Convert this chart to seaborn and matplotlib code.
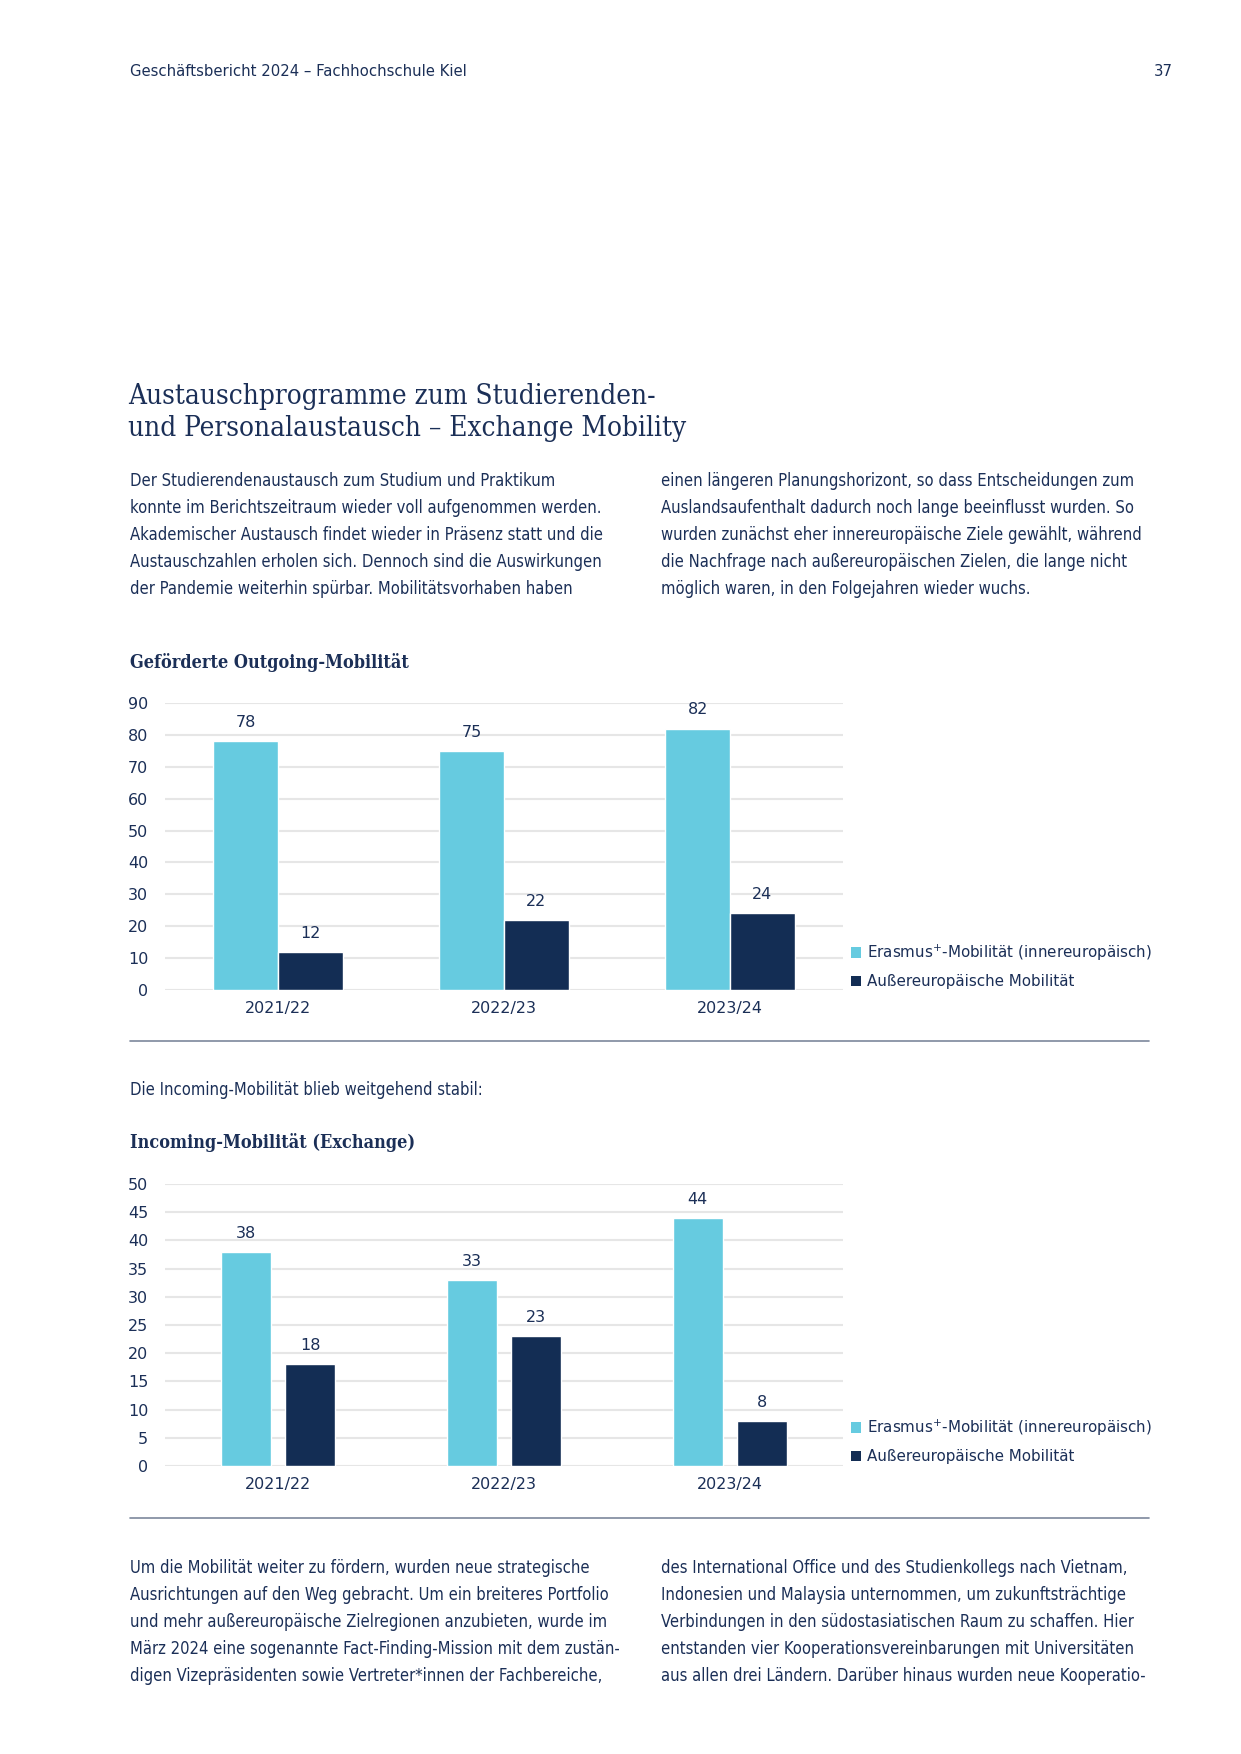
import pandas as pd
import numpy as np
import matplotlib.pyplot as plt
import seaborn as sns
from matplotlib.patches import Patch

# Theme first, fonts afterwards (set_theme resets font.family)
sns.set_theme(style="whitegrid")
plt.rcParams['font.family'] = ['DejaVu Sans']

NAVY = '#1b2f57'
LIGHT = '#66cbe0'
DARK = '#132d54'
GRID = '#e6e6e6'
RULE = '#7d889c'

W, H = 1241, 1754

# Data
years = ['2021/22', '2022/23', '2023/24']
series_names = ['Erasmus$^{+}$-Mobilität (innereuropäisch)', 'Außereuropäische Mobilität']
out_erasmus = [78, 75, 82]
out_aussen = [12, 22, 24]
in_erasmus = [38, 33, 44]
in_aussen = [18, 23, 8]
out_ticks = list(range(0, 91, 10))
in_ticks = list(range(0, 51, 5))

header_left = 'Geschäftsbericht 2024 – Fachhochschule Kiel'
page_no = '37'
title_lines = ['Austauschprogramme zum Studierenden-',
               'und Personalaustausch – Exchange Mobility']
intro_left = ['Der Studierendenaustausch zum Studium und Praktikum',
              'konnte im Berichtszeitraum wieder voll aufgenommen werden.',
              'Akademischer Austausch findet wieder in Präsenz statt und die',
              'Austauschzahlen erholen sich. Dennoch sind die Auswirkungen',
              'der Pandemie weiterhin spürbar. Mobilitätsvorhaben haben']
intro_right = ['einen längeren Planungshorizont, so dass Entscheidungen zum',
               'Auslandsaufenthalt dadurch noch lange beeinflusst wurden. So',
               'wurden zunächst eher innereuropäische Ziele gewählt, während',
               'die Nachfrage nach außereuropäischen Zielen, die lange nicht',
               'möglich waren, in den Folgejahren wieder wuchs.']
out_title = 'Geförderte Outgoing-Mobilität'
in_intro = 'Die Incoming-Mobilität blieb weitgehend stabil:'
in_title = 'Incoming-Mobilität (Exchange)'
outro_left = ['Um die Mobilität weiter zu fördern, wurden neue strategische',
              'Ausrichtungen auf den Weg gebracht. Um ein breiteres Portfolio',
              'und mehr außereuropäische Zielregionen anzubieten, wurde im',
              'März 2024 eine sogenannte Fact-Finding-Mission mit dem zustän-',
              'digen Vizepräsidenten sowie Vertreter*innen der Fachbereiche,']
outro_right = ['des International Office und des Studienkollegs nach Vietnam,',
               'Indonesien und Malaysia unternommen, um zukunftsträchtige',
               'Verbindungen in den südostasiatischen Raum zu schaffen. Hier',
               'entstanden vier Kooperationsvereinbarungen mit Universitäten',
               'aus allen drei Ländern. Darüber hinaus wurden neue Kooperatio-']

df_out = pd.DataFrame({'Jahr': years * 2,
                       'Art': [series_names[0]] * 3 + [series_names[1]] * 3,
                       'Anzahl': out_erasmus + out_aussen})
df_in = pd.DataFrame({'Jahr': years * 2,
                      'Art': [series_names[0]] * 3 + [series_names[1]] * 3,
                      'Anzahl': in_erasmus + in_aussen})


def fx(x):
    return x / W


def fy(y):
    return 1 - y / H


fig = plt.figure(figsize=(W / 100, H / 100), dpi=100)

BODY_SIZE = 11.9


def body(lines, x, y0, step=27, size=BODY_SIZE):
    for i, line in enumerate(lines):
        fig.text(fx(x), fy(y0 + i * step), line, fontsize=size, color=NAVY,
                 ha='left', va='center', fontstretch='condensed')


# Header
fig.text(fx(130), fy(72), header_left, fontsize=10.7, color=NAVY, va='center')
fig.text(fx(1173), fy(72), page_no, fontsize=10.7, color=NAVY, va='center', ha='right')

# Title
for i, line in enumerate(title_lines):
    fig.text(fx(128), fy(404 + i * 32), line, fontsize=20, color=NAVY,
             family='DejaVu Serif', fontstretch='condensed', va='baseline')

body(intro_left, 130, 481)
body(intro_right, 661, 481)


def chart(ax, df, ticks, title_y, title, bar_kw):
    sns.barplot(data=df, x='Jahr', y='Anzahl', hue='Art', palette=[LIGHT, DARK],
                saturation=1, errorbar=None, ax=ax, legend=False, **bar_kw)
    ax.set_xlim(-0.5, 2.5)
    ax.set_ylim(0, ticks[-1])
    ax.set_yticks(ticks)
    ax.set_xlabel('')
    ax.set_ylabel('')
    ax.grid(axis='y', color=GRID, linewidth=1.5)
    ax.grid(axis='x', visible=False)
    ax.set_axisbelow(True)
    for s in ax.spines.values():
        s.set_visible(False)
    ax.tick_params(axis='y', length=0, pad=12, labelsize=11.5, labelcolor=NAVY)
    ax.tick_params(axis='x', length=0, pad=8, labelsize=11.5, labelcolor=NAVY)
    for c in ax.containers:
        ax.bar_label(c, fmt='%d', padding=8, fontsize=11.5, color=NAVY)
    fig.text(fx(130), fy(title_y), title, fontsize=13, color=NAVY, weight='bold',
             family='DejaVu Serif', fontstretch='condensed', va='center')


# Chart 1: Outgoing
ax1 = fig.add_axes([fx(165), fy(990), (843 - 165) / W, (990 - 703) / H])
chart(ax1, df_out, out_ticks, 663, out_title, dict(width=0.573, gap=0))

# Chart 2: Incoming
ax2 = fig.add_axes([fx(165), fy(1466), (843 - 165) / W, (1466 - 1184) / H])
chart(ax2, df_in, in_ticks, 1142, in_title, dict(width=0.57, gap=0.23))

fig.text(fx(130), fy(1090), in_intro, fontsize=BODY_SIZE, color=NAVY, va='center',
         fontstretch='condensed')

# Legends
handles = [Patch(facecolor=LIGHT, edgecolor='none'), Patch(facecolor=DARK, edgecolor='none')]
for cy in (966, 1441):
    fig.legend(handles, series_names, loc='center left', bbox_to_anchor=(fx(843), fy(cy)),
               frameon=False, prop=dict(size=10.9), labelcolor=NAVY, handlelength=0.7,
               handleheight=0.7, handletextpad=0.4, labelspacing=0.75, borderpad=0)

# Horizontal rules
for ry in (1041, 1518):
    fig.add_artist(plt.Line2D([fx(130), fx(1149)], [fy(ry), fy(ry)], color=RULE, linewidth=1.2))

body(outro_left, 130, 1568)
body(outro_right, 661, 1568)

plt.savefig('out.png', dpi=100, facecolor='white')
